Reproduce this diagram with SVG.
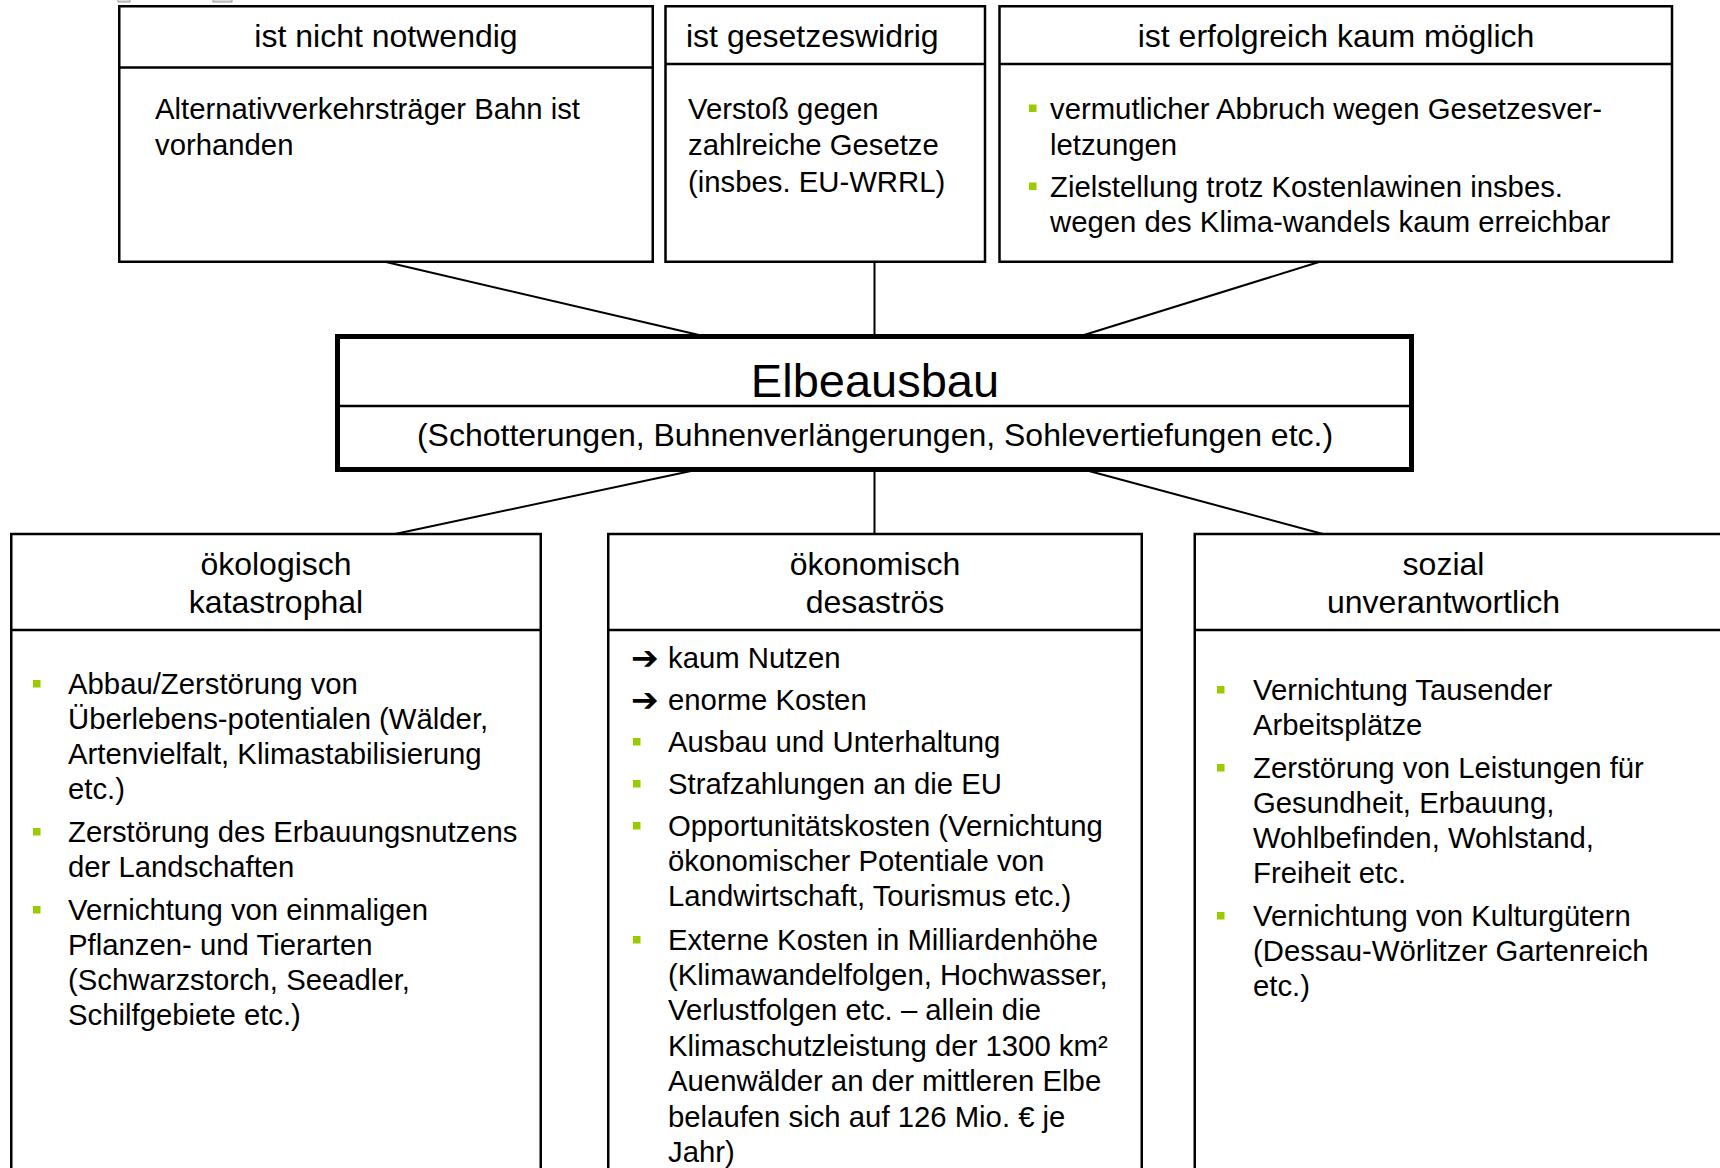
<svg xmlns="http://www.w3.org/2000/svg" width="1720" height="1168" viewBox="0 0 1720 1168">
<style>
.box{fill:#fff;stroke:#000;stroke-width:2.5}
.thick{fill:#fff;stroke:#000;stroke-width:5}
.dv{stroke:#000;stroke-width:2.5}
.conn line{stroke:#000;stroke-width:2}
text{font-family:"Liberation Sans",Arial,sans-serif;fill:#000}
.h{font-size:32px}
.b{font-size:29.3px}
.c{text-anchor:middle}
.bul{fill:#99cc00}
.arr{font-family:"DejaVu Sans",sans-serif;font-size:33px;font-weight:bold}
.mark{fill:#ddd;stroke:#999;stroke-width:1}
</style>
<rect width="1720" height="1168" fill="#fff"/>
<rect class="mark" x="118" y="-4" width="12" height="6"/>
<rect class="mark" x="213" y="-4" width="19" height="6"/>

<g id="connectors" class="conn">
<line x1="386" y1="262" x2="699" y2="335"/>
<line x1="874.5" y1="262" x2="874.5" y2="335"/>
<line x1="1319" y1="262" x2="1084" y2="335"/>
<line x1="691" y1="471" x2="395" y2="534"/>
<line x1="874.5" y1="471" x2="874.5" y2="534"/>
<line x1="1089" y1="471" x2="1323" y2="534"/>
</g>

<g id="node-notwendig">
<rect class="box" x="119.25" y="6.25" width="533.5" height="255.5"/>
<line class="dv" x1="119" y1="67.5" x2="653" y2="67.5"/>
<text class="h c" x="386" y="47">ist nicht notwendig</text>
<text class="b" x="155" y="119">Alternativverkehrsträger Bahn ist</text>
<text class="b" x="155" y="155">vorhanden</text>
</g>

<g id="node-gesetzeswidrig">
<rect class="box" x="665.5" y="6.25" width="319.5" height="255.5"/>
<line class="dv" x1="665" y1="64" x2="985" y2="64"/>
<text class="h" x="686" y="47">ist gesetzeswidrig</text>
<text class="b" x="688" y="119">Verstoß gegen</text>
<text class="b" x="688" y="155">zahlreiche Gesetze</text>
<text class="b" x="688" y="192">(insbes. EU-WRRL)</text>
</g>

<g id="node-kaum-moeglich">
<rect class="box" x="999.5" y="6.25" width="672.5" height="255.5"/>
<line class="dv" x1="999" y1="64" x2="1672" y2="64"/>
<text class="h c" x="1336" y="47">ist erfolgreich kaum möglich</text>
<rect class="bul" x="1029" y="104.5" width="7.5" height="7.5"/>
<text class="b" x="1050" y="119">vermutlicher Abbruch wegen Gesetzesver-</text>
<text class="b" x="1050" y="155">letzungen</text>
<rect class="bul" x="1029" y="182.5" width="7.5" height="7.5"/>
<text class="b" x="1050" y="197">Zielstellung trotz Kostenlawinen insbes.</text>
<text class="b" x="1050" y="232">wegen des Klima-wandels kaum erreichbar</text>
</g>

<g id="node-elbeausbau">
<rect class="thick" x="337.5" y="336.5" width="1074" height="133"/>
<line class="dv" x1="337" y1="406" x2="1412" y2="406"/>
<text class="c" x="875" y="397" font-size="47">Elbeausbau</text>
<text class="h c" x="875" y="446">(Schotterungen, Buhnenverlängerungen, Sohlevertiefungen etc.)</text>
</g>

<g id="node-oekologisch">
<rect class="box" x="11.25" y="534" width="529.5" height="660"/>
<line class="dv" x1="11" y1="630" x2="541" y2="630"/>
<text class="h c" x="276" y="575">ökologisch</text>
<text class="h c" x="276" y="613">katastrophal</text>
<rect class="bul" x="33" y="680" width="7.5" height="7.5"/>
<text class="b" x="68" y="694">Abbau/Zerstörung von</text>
<text class="b" x="68" y="729">Überlebens-potentialen (Wälder,</text>
<text class="b" x="68" y="764">Artenvielfalt, Klimastabilisierung</text>
<text class="b" x="68" y="799">etc.)</text>
<rect class="bul" x="33" y="828" width="7.5" height="7.5"/>
<text class="b" x="68" y="842">Zerstörung des Erbauungsnutzens</text>
<text class="b" x="68" y="877">der Landschaften</text>
<rect class="bul" x="33" y="906" width="7.5" height="7.5"/>
<text class="b" x="68" y="920">Vernichtung von einmaligen</text>
<text class="b" x="68" y="955">Pflanzen- und Tierarten</text>
<text class="b" x="68" y="990">(Schwarzstorch, Seeadler,</text>
<text class="b" x="68" y="1025">Schilfgebiete etc.)</text>
</g>

<g id="node-oekonomisch">
<rect class="box" x="608.25" y="534" width="533.5" height="660"/>
<line class="dv" x1="608" y1="630" x2="1142" y2="630"/>
<text class="h c" x="875" y="575">ökonomisch</text>
<text class="h c" x="875" y="613">desaströs</text>
<text class="arr" x="631" y="669">➔</text>
<text class="b" x="668" y="668">kaum Nutzen</text>
<text class="arr" x="631" y="711">➔</text>
<text class="b" x="668" y="710">enorme Kosten</text>
<rect class="bul" x="633" y="738" width="7.5" height="7.5"/>
<text class="b" x="668" y="752">Ausbau und Unterhaltung</text>
<rect class="bul" x="633" y="780" width="7.5" height="7.5"/>
<text class="b" x="668" y="794">Strafzahlungen an die EU</text>
<rect class="bul" x="633" y="822" width="7.5" height="7.5"/>
<text class="b" x="668" y="836">Opportunitätskosten (Vernichtung</text>
<text class="b" x="668" y="871">ökonomischer Potentiale von</text>
<text class="b" x="668" y="906">Landwirtschaft, Tourismus etc.)</text>
<rect class="bul" x="633" y="936" width="7.5" height="7.5"/>
<text class="b" x="668" y="950">Externe Kosten in Milliardenhöhe</text>
<text class="b" x="668" y="985">(Klimawandelfolgen, Hochwasser,</text>
<text class="b" x="668" y="1020">Verlustfolgen etc. – allein die</text>
<text class="b" x="668" y="1055.5">Klimaschutzleistung der 1300 km²</text>
<text class="b" x="668" y="1091">Auenwälder an der mittleren Elbe</text>
<text class="b" x="668" y="1126.5">belaufen sich auf 126 Mio. € je</text>
<text class="b" x="668" y="1162">Jahr)</text>
</g>

<g id="node-sozial">
<rect class="box" x="1194.75" y="534" width="560" height="660"/>
<line class="dv" x1="1194" y1="630" x2="1720" y2="630"/>
<text class="h c" x="1443.5" y="575">sozial</text>
<text class="h c" x="1443.5" y="613">unverantwortlich</text>
<rect class="bul" x="1217" y="686" width="7.5" height="7.5"/>
<text class="b" x="1253" y="700">Vernichtung Tausender</text>
<text class="b" x="1253" y="735">Arbeitsplätze</text>
<rect class="bul" x="1217" y="764" width="7.5" height="7.5"/>
<text class="b" x="1253" y="778">Zerstörung von Leistungen für</text>
<text class="b" x="1253" y="813">Gesundheit, Erbauung,</text>
<text class="b" x="1253" y="848">Wohlbefinden, Wohlstand,</text>
<text class="b" x="1253" y="883">Freiheit etc.</text>
<rect class="bul" x="1217" y="912" width="7.5" height="7.5"/>
<text class="b" x="1253" y="926">Vernichtung von Kulturgütern</text>
<text class="b" x="1253" y="961">(Dessau-Wörlitzer Gartenreich</text>
<text class="b" x="1253" y="996">etc.)</text>
</g>
</svg>
